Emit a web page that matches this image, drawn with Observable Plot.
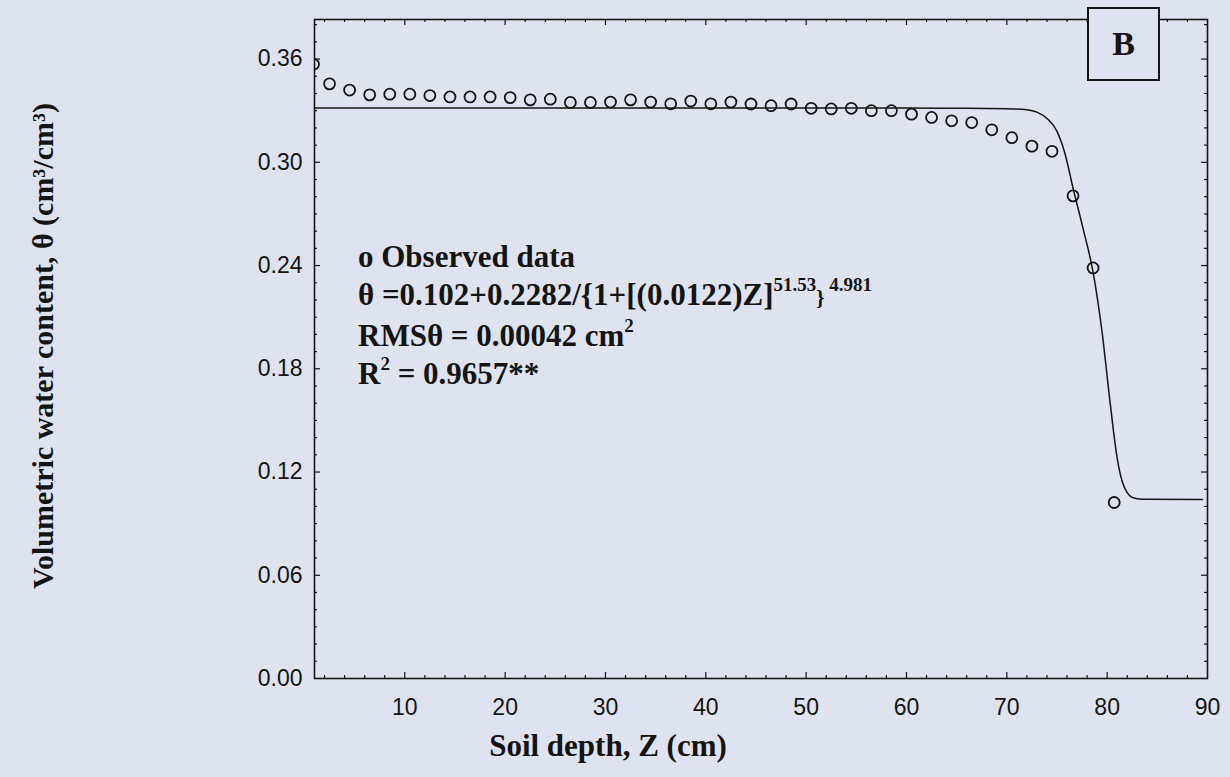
<!DOCTYPE html>
<html>
<head>
<meta charset="utf-8">
<script src="https://cdn.jsdelivr.net/npm/d3@7"></script>
<script src="https://cdn.jsdelivr.net/npm/@observablehq/plot@0.6"></script>
<style>
  html, body { margin: 0; padding: 0; background: #dee3ef; }
  #wrap { position: relative; width: 1230px; height: 777px; overflow: hidden; background: #dee3ef; }
  #note { position: absolute; left: 358px; top: 238px; font-family: "Liberation Serif", "Times New Roman", serif;
          font-weight: bold; font-size: 31px; line-height: 38px; white-space: nowrap; color: #141414; }
  #note sup { font-size: 19px; vertical-align: baseline; position: relative; top: -0.75em; line-height: 0; }
  #note .br { font-size: 21px; }
  #boxB { position: absolute; left: 1087px; top: 7px; width: 73px; height: 74px; box-sizing: border-box;
          border: 2px solid #141414; background: #dee3ef; font-family: "Liberation Serif", serif; font-weight: bold;
          font-size: 34px; color: #141414; display: flex; align-items: center; justify-content: center; }
</style>
</head>
<body>
<div id="wrap">
  <div id="chart"></div>
  <div id="note">
    <div>o Observed data</div>
    <div>θ =0.102+0.2282/{1+[(0.0122)Z]<sup>51.53</sup><span class="br">}</span><sup>&nbsp;4.981</sup></div>
    <div>RMSθ = 0.00042 cm<sup>2</sup></div>
    <div>R<sup>2</sup> = 0.9657**</div>
  </div>
  <div id="boxB">B</div>
</div>
<script>
// Observed data: soil depth Z (cm) and volumetric water content θ (cm3/cm3)
const depthObs = [0.9, 2.5, 4.5, 6.5, 8.5, 10.5, 12.5, 14.5, 16.5, 18.5, 20.5, 22.5, 24.5, 26.5, 28.5, 30.5,
  32.5, 34.5, 36.5, 38.5, 40.5, 42.5, 44.5, 46.5, 48.5, 50.5, 52.5, 54.5, 56.5, 58.5, 60.5, 62.5, 64.5,
  66.5, 68.5, 70.5, 72.5, 74.5, 76.6, 78.6, 80.7];
const thetaObs = [0.357, 0.3456, 0.342, 0.3392, 0.3396, 0.3396, 0.3388, 0.338, 0.338, 0.338, 0.3376, 0.3363,
  0.3367, 0.3348, 0.3348, 0.335, 0.3363, 0.335, 0.334, 0.3356, 0.334, 0.335, 0.3339, 0.3329, 0.3339, 0.3314,
  0.331, 0.3314, 0.330, 0.330, 0.328, 0.3261, 0.3241, 0.3231, 0.3189, 0.3143, 0.3094, 0.3064, 0.2805, 0.2386, 0.1023];

// Fitted curve
const depthFit = [1, 20, 40, 60, 66, 70, 72, 73, 74, 75, 75.8, 76.6, 77.6, 78.6, 79.5, 80.3, 81, 81.5, 82, 82.5, 83.5, 89.5];
const thetaFit = [0.3315, 0.3315, 0.3315, 0.3315, 0.3314, 0.3312, 0.3306, 0.3292, 0.3255, 0.318, 0.305, 0.285,
  0.2615, 0.236, 0.201, 0.160, 0.128, 0.1145, 0.108, 0.1052, 0.1042, 0.1040];

const xTickLabels = [10, 20, 30, 40, 50, 60, 70, 80, 90];
const yTickLabels = [0, 0.06, 0.12, 0.18, 0.24, 0.30, 0.36];

const obs = depthObs.map((z, i) => ({z, theta: thetaObs[i]}));
const fit = depthFit.map((z, i) => ({z, theta: thetaFit[i]}));

const W = 1230, H = 777, mL = 314, mR = 23, mT = 19, mB = 99;
const pw = W - mL - mR, ph = H - mT - mB;
const ink = "#141414";

const xMinor = d3.range(2, 90, 2).filter(v => v % 10 !== 0);
const xMajor = [10, 20, 30, 40, 50, 60, 70, 80];
const yMinor = d3.range(1, 39).map(v => v / 100).filter(v => Math.round(v * 100) % 6 !== 0);
const yMajor = [0.06, 0.12, 0.18, 0.24, 0.30, 0.36];

const tickStyle = {stroke: ink, strokeWidth: 1.2};

const chart = Plot.plot({
  width: W, height: H,
  marginLeft: mL, marginRight: mR, marginTop: mT, marginBottom: mB,
  style: {background: "transparent", fontFamily: "'Liberation Sans', Arial, sans-serif", color: ink},
  x: {domain: [1, 90]},
  y: {domain: [0, 0.383]},
  marks: [
    // inward ticks on all four sides
    Plot.tickX(xMinor, {x: d => d, insetTop: ph - 3, ...tickStyle}),
    Plot.tickX(xMajor, {x: d => d, insetTop: ph - 6, ...tickStyle}),
    Plot.tickX(xMinor, {x: d => d, insetBottom: ph - 3, ...tickStyle}),
    Plot.tickX(xMajor, {x: d => d, insetBottom: ph - 6, ...tickStyle}),
    Plot.tickY(yMinor, {y: d => d, insetRight: pw - 3, ...tickStyle}),
    Plot.tickY(yMajor, {y: d => d, insetRight: pw - 6, ...tickStyle}),
    Plot.tickY(yMinor, {y: d => d, insetLeft: pw - 3, ...tickStyle}),
    Plot.tickY(yMajor, {y: d => d, insetLeft: pw - 6, ...tickStyle}),
    Plot.frame({stroke: ink, strokeWidth: 1.6}),
    Plot.axisX({ticks: xTickLabels, tickSize: 0, tickPadding: 20, fontSize: 23, tickFormat: d => String(d), label: null, fill: ink}),
    Plot.axisY({ticks: yTickLabels, tickSize: 0, tickPadding: 12, fontSize: 23, tickFormat: d3.format(".2f"), label: null, fill: ink}),
    Plot.line(fit, {x: "z", y: "theta", curve: "monotone-x", stroke: ink, strokeWidth: 1.5}),
    Plot.dot(obs, {x: "z", y: "theta", r: 5.5, stroke: ink, strokeWidth: 1.8, fill: "none", clip: true}),
    Plot.text(["Soil depth, Z (cm)"], {frameAnchor: "bottom", dx: -153, dy: 77, fontSize: 31, fontWeight: "bold",
      fontFamily: "'Liberation Serif', 'Times New Roman', serif", fill: ink}),
    Plot.text(["Volumetric water content, θ (cm³/cm³)"], {frameAnchor: "left", textAnchor: "middle", rotate: -90,
      dx: -271, dy: -3, fontSize: 30, fontWeight: "bold", fontFamily: "'Liberation Serif', 'Times New Roman', serif", fill: ink})
  ]
});
document.getElementById("chart").appendChild(chart);
</script>
</body>
</html>
